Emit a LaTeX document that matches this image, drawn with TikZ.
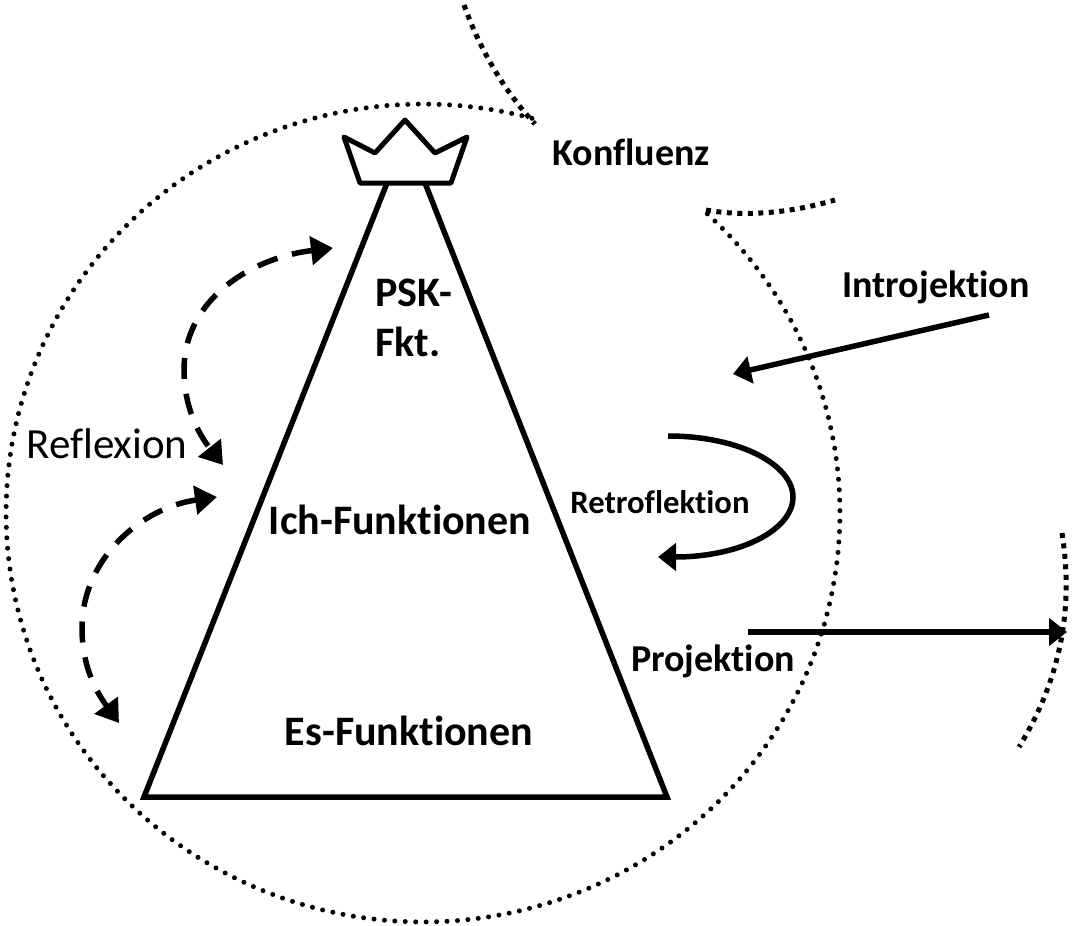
\documentclass[tikz,border=0pt]{standalone}
\usepackage{fontspec}
\setmainfont[Ligatures=NoCommon]{Carlito}
\usetikzlibrary{arrows.meta}
\tikzset{
  shapeline/.style={draw=black,line width=5.5pt},
  crownline/.style={draw=black,line width=5pt,line join=round},
  solidarrow/.style={draw=black,line width=5.5pt,-{Triangle[length=18pt,width=27pt]}},
  dasharrow/.style={draw=black,line width=5.5pt,dash pattern=on 21pt off 15pt,{Triangle[length=22pt,width=28pt]}-{Triangle[length=22pt,width=28pt]}},
  roundDots/.style={draw=black,line width=5pt,line cap=round,dash pattern=on 0pt off 10.45pt},
  squareDots/.style={draw=black,line width=5pt,dash pattern=on 5pt off 5.5pt},
  bigLabel/.style={inner sep=0pt,font=\fontsize{42}{50}\selectfont\bfseries},
  smallLabel/.style={inner sep=0pt,font=\fontsize{38}{44}\selectfont\bfseries},
  retroLabel/.style={inner sep=0pt,font=\fontsize{32.7}{38}\selectfont\bfseries},
  plainLabel/.style={inner sep=0pt,font=\fontsize{43}{50}\selectfont},
}
\begin{document}
\begin{tikzpicture}[x=1pt,y=-1pt]
\useasboundingbox (0,0) rectangle (1077,926);
% large dotted circle
\draw[roundDots] plot[domain=47:-286,samples=160,variable=\t] ({423+417*cos(\t)},{513-409*sin(\t)});
% outer dotted arcs
\coordinate (outerA1) at (464,5);
\coordinate (outerA2) at (535,124);
\draw[squareDots] (outerA1) .. controls (480,50) and (505,92) .. (outerA2);
\coordinate (outerB1) at (706,210);
\coordinate (outerB2) at (835,200);
\draw[squareDots] (outerB1) .. controls (745,217) and (790,213) .. (outerB2);
\coordinate (outerC1) at (1062,533);
\coordinate (outerC2) at (1019,747);
\draw[squareDots] (outerC1) .. controls (1074,610) and (1060,680) .. (outerC2);
% pyramid and crown
\draw[shapeline] (387,183) -- (144,797) -- (667,797) -- (425,183);
\draw[crownline] (360,183) -- (344,137) -- (375,153) -- (405,120) -- (435,153) -- (467,137) -- (451,183) -- cycle;
% labels
\node[bigLabel,align=left,anchor=west] (psk) at (375,318) {PSK-\\Fkt.};
\node[bigLabel] (ich) at (400,520) {Ich-Funktionen};
\node[bigLabel] (es) at (409,731) {Es-Funktionen};
\node[smallLabel] (konf) at (631,152) {Konfluenz};
\node[smallLabel] (intro) at (936,287) {Introjektion};
\node[retroLabel] (retro) at (660,502) {Retroflektion};
\node[smallLabel] (proj) at (713,661) {Projektion};
\node[plainLabel] (refl) at (107,444) {Reflexion};
% arrows
\coordinate (r1a) at (333,248);
\coordinate (r1m) at (184,370);
\coordinate (r1b) at (223,465);
\draw[dasharrow] (r1a) .. controls (250,258) and (184,300) .. (r1m) .. controls (184,405) and (197,432) .. (r1b);
\coordinate (r2a) at (217,497);
\coordinate (r2m) at (82,628);
\coordinate (r2b) at (119,723);
\draw[dasharrow] (r2a) .. controls (140,508) and (82,560) .. (r2m) .. controls (82,665) and (95,690) .. (r2b);
\coordinate (intA) at (989,315);
\coordinate (intB) at (733,374);
\draw[solidarrow] (intA) -- (intB);
\coordinate (retA) at (668,436);
\coordinate (retM) at (793,497);
\coordinate (retB) at (658,557);
\draw[solidarrow] (retA) .. controls (740,436) and (793,465) .. (retM) .. controls (793,530) and (740,557) .. (retB);
\coordinate (proA) at (748,632);
\coordinate (proB) at (1067,632);
\draw[solidarrow] (proA) -- (proB);
\end{tikzpicture}
\end{document}
